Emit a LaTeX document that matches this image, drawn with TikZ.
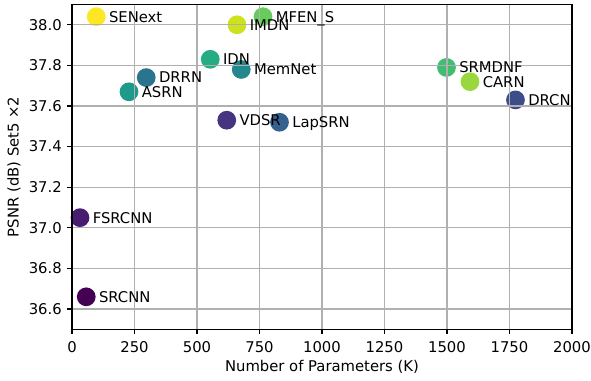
\documentclass[tikz,border=0pt]{standalone}
\usepackage{fontspec}
\setmainfont{DejaVu Sans}
% viridis samples
\definecolor{v00}{HTML}{440154}
\definecolor{v01}{HTML}{481D6F}
\definecolor{v02}{HTML}{453581}
\definecolor{v03}{HTML}{3D4D8A}
\definecolor{v04}{HTML}{34618D}
\definecolor{v05}{HTML}{2B748E}
\definecolor{v06}{HTML}{24878E}
\definecolor{v07}{HTML}{1F998A}
\definecolor{v08}{HTML}{25AC82}
\definecolor{v09}{HTML}{40BD72}
\definecolor{v10}{HTML}{67CC5C}
\definecolor{v11}{HTML}{98D83E}
\definecolor{v12}{HTML}{CDE11D}
\definecolor{v13}{HTML}{FDE725}
\definecolor{gridgray}{HTML}{B0B0B0}
\begin{document}
\begin{tikzpicture}[
  font=\fontsize{10.66}{12.8}\selectfont,
  dot/.style={circle, inner sep=0pt, minimum size=13.5pt, draw=none},
  lbl/.style={anchor=base west, inner sep=0pt},
  gridline/.style={draw=gridgray, line width=0.85pt},
  spine/.style={draw=black, line width=0.85pt},
  ticklbl/.style={inner sep=0pt},
]
\useasboundingbox (0,0) rectangle (425.52pt,273.6pt);
% data space: x in K parameters, y in dB
\begin{scope}[x=0.18pt, y=146.16pt, shift={(51.84pt,-5298.336pt)}]
  % markers
  \foreach \n/\k/\v/\c in {
      srcnn/57/36.66/v00, fsrcnn/32/37.05/v01, vdsr/619/37.53/v02,
      drcn/1774/37.63/v03, lapsrn/830/37.52/v04, drrn/297/37.74/v05,
      memnet/677/37.78/v06, asrn/228/37.67/v07, idn/553/37.83/v08,
      srmdnf/1498/37.79/v09, mfens/764/38.04/v10, carn/1592/37.72/v11,
      imdn/660/38.00/v12, senext/97/38.04/v13} {
    \node[dot, fill=\c] (\n) at (\k,\v) {};
  }
  % grid
  \foreach \k in {0,250,...,2000}
    \draw[gridline] (\k,36.5) -- (\k,38.1);
  \foreach \v in {36.6,36.8,37.0,37.2,37.4,37.6,37.8,38.0}
    \draw[gridline] (0,\v) -- (2000,\v);
  % frame
  \draw[spine] (0,36.5) rectangle (2000,38.1);
  % x ticks
  \foreach \k in {0,250,...,2000} {
    \coordinate (xt\k) at (\k,36.5);
    \draw[spine] (xt\k) -- ++(0,-3.7pt);
    \node[ticklbl, anchor=north] (xl\k) at ([yshift=-8.9pt]xt\k) {\k};
  }
  % y ticks
  \foreach \v [count=\i] in {36.6,36.8,37.0,37.2,37.4,37.6,37.8,38.0} {
    \coordinate (yt\i) at (0,\v);
    \draw[spine] (yt\i) -- ++(-3.7pt,0);
    \node[ticklbl, anchor=east] (yl\i) at ([xshift=-7.2pt]yt\i) {\v};
  }
  % axis titles
  \coordinate (xmid) at (1000,36.5);
  \coordinate (ymid) at (0,37.3);
  \node[ticklbl, anchor=base] (xtitle) at ([yshift=-30.1pt]xmid) {Number of Parameters (K)};
  \node[ticklbl, anchor=base, rotate=90] (ytitle) at ([xshift=-38.5pt]ymid) {PSNR (dB) Set5 ×2};
  % point labels
  \foreach \n/\t in {
      srcnn/SRCNN, fsrcnn/FSRCNN, vdsr/VDSR, drcn/DRCN, lapsrn/LapSRN,
      drrn/DRRN, memnet/MemNet, asrn/ASRN, idn/IDN, srmdnf/SRMDNF,
      mfens/{MFEN\_S}, carn/CARN, imdn/IMDN, senext/SENext} {
    \node[lbl] (\n-t) at ([xshift=9pt, yshift=-3.9pt]\n.center) {\t};
  }
\end{scope}
\end{tikzpicture}
\end{document}
